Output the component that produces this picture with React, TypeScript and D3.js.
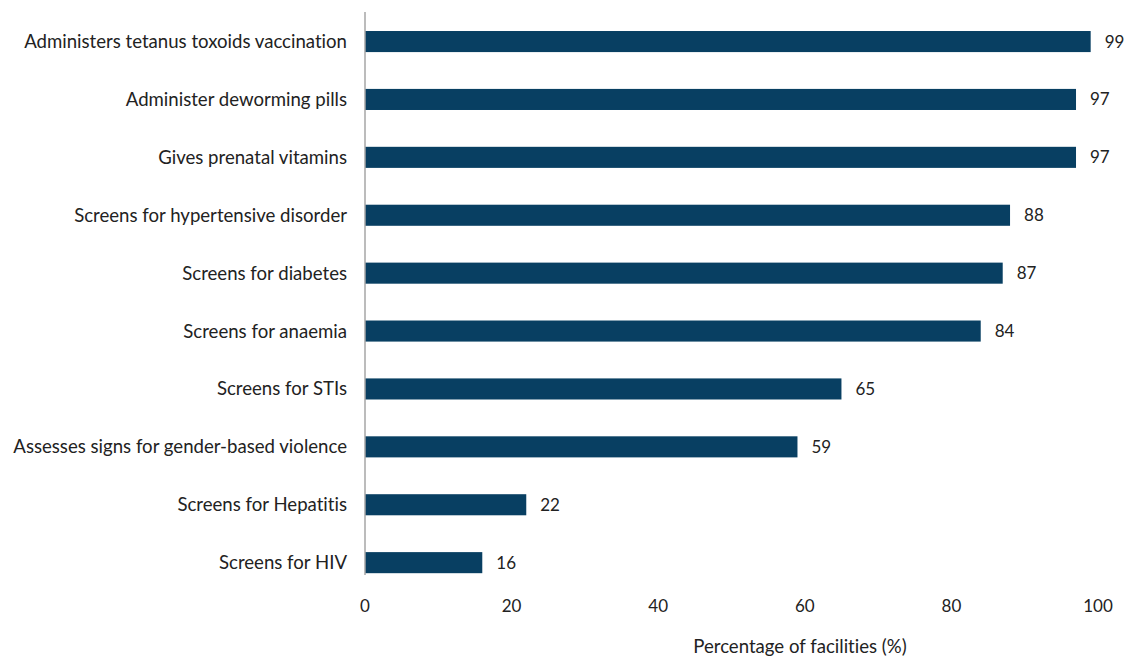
import React from "react";
import * as d3 from "d3";

const categories = [
  "Administers tetanus toxoids vaccination",
  "Administer deworming pills",
  "Gives prenatal vitamins",
  "Screens for hypertensive disorder",
  "Screens for diabetes",
  "Screens for anaemia",
  "Screens for STIs",
  "Assesses signs for gender-based violence",
  "Screens for Hepatitis",
  "Screens for HIV",
];
const values = [99, 97, 97, 88, 87, 84, 65, 59, 22, 16];
const xTicks = [0, 20, 40, 60, 80, 100];
const xTitle = "Percentage of facilities (%)";

const W = 1135;
const H = 656;
const FONT = "Lato, 'Open Sans', sans-serif";
const BAR = "#083f62";

export default function App() {
  const x = d3.scaleLinear().domain([0, 100]).range([365, 1098]);
  const y = d3
    .scaleBand<string>()
    .domain(categories)
    .range([12.6, 591.6])
    .paddingInner(0.636)
    .paddingOuter(0.318);
  const bw = y.bandwidth();
  return (
    <svg
      width={W}
      height={H}
      style={{ position: "absolute", left: 0, top: 0, background: "#fff" }}
      fontFamily={FONT}
    >
      {categories.map((c, i) => {
        const yc = (y(c) as number) + bw / 2;
        return (
          <g key={c}>
            <rect x={x(0)} y={y(c)} width={x(values[i]) - x(0)} height={bw} fill={BAR} />
            <text x={347} y={yc} dy="0.35em" textAnchor="end" fontSize={18.6} fill="#222" style={{ fontVariantLigatures: "none" }}>
              {c}
            </text>
            <text x={x(values[i]) + 14} y={yc} dy="0.35em" fontSize={17} fill="#222">
              {values[i]}
            </text>
          </g>
        );
      })}
      <line x1={x(0)} x2={x(0)} y1={12} y2={575} stroke="#a6a6a6" strokeWidth={1.5} />
      {xTicks.map((t) => (
        <text key={t} x={x(t)} y={606} dy="0.35em" textAnchor="middle" fontSize={17} fill="#222">
          {t}
        </text>
      ))}
      <text x={800} y={646} dy="0.35em" textAnchor="middle" fontSize={18.6} fill="#222" style={{ fontVariantLigatures: "none" }}>
        {xTitle}
      </text>
    </svg>
  );
}
